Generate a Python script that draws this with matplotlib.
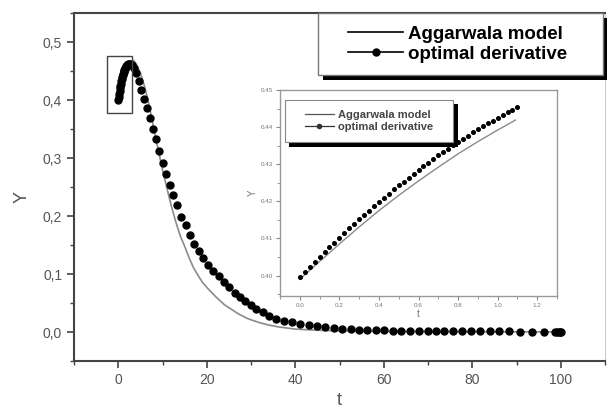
import matplotlib
matplotlib.use("Agg")
import matplotlib.pyplot as plt
from matplotlib.patches import Rectangle
from matplotlib.lines import Line2D
from matplotlib.ticker import MultipleLocator, FuncFormatter

plt.rcParams['font.family'] = ['Liberation Sans', 'DejaVu Sans']

# ---- main panel: optimal derivative (dots) ----
t_opt = [0.0, 0.1, 0.2, 0.3, 0.4, 0.5, 0.6, 0.7, 0.8, 0.9, 1.0, 1.1, 1.2, 1.3,
         1.4, 1.5, 1.6, 1.7, 1.8, 1.9, 2.0, 2.2, 2.4, 2.6, 2.8, 3.0, 3.5, 4.0,
         4.6, 5.2, 5.8, 6.5, 7.2, 7.9, 8.6, 9.3, 10.0, 10.8, 11.6, 12.4, 13.3,
         14.2, 15.2, 16.2, 17.2, 18.2, 19.2, 20.3, 21.5, 22.7, 23.9, 25.1, 26.3,
         27.5, 28.7, 29.9, 31.2, 32.6, 34.1, 35.7, 37.4, 39.2, 41.1, 43.0, 44.9,
         46.8, 48.7, 50.6, 52.5, 54.4, 56.3, 58.2, 60.1, 62.0, 63.9, 65.9, 67.9,
         69.9, 71.8, 73.7, 75.7, 77.7, 79.7, 81.8, 83.9, 86.1, 88.4, 90.8, 93.4,
         96.2, 98.8, 99.2, 99.5, 99.8, 100.0]
y_opt = [0.3995, 0.405, 0.410, 0.415, 0.420, 0.4243, 0.4284, 0.4324, 0.436,
         0.4394, 0.4425, 0.4454, 0.448, 0.4503, 0.4524, 0.4543, 0.456, 0.4574,
         0.4586, 0.4596, 0.4604, 0.4615, 0.462, 0.4618, 0.461, 0.4597, 0.4545,
         0.446, 0.432, 0.417, 0.401, 0.386, 0.369, 0.350, 0.333, 0.312, 0.292,
         0.273, 0.253, 0.236, 0.219, 0.199, 0.184, 0.168, 0.152, 0.139, 0.127,
         0.115, 0.105, 0.096, 0.087, 0.077, 0.068, 0.060, 0.053, 0.047, 0.040,
         0.034, 0.028, 0.023, 0.019, 0.0165, 0.014, 0.012, 0.0095, 0.008,
         0.0065, 0.0055, 0.0048, 0.004, 0.0035, 0.003, 0.0027, 0.0024, 0.0022,
         0.002, 0.0018, 0.0016, 0.0015, 0.0014, 0.0013, 0.0012, 0.0011, 0.001,
         0.001, 0.0009, 0.0009, 0.0008, 0.0008, 0.0007, 0.0007, 0.0007, 0.0007,
         0.0007, 0.0007]

# ---- main panel: Aggarwala model (line) ----
t_agg = [0.0, 0.5, 1.0, 1.5, 2.0, 2.5, 3.0, 3.5, 4.0, 5.0, 6.0, 7.0, 8.0, 9.0,
         10.0, 11.0, 12.0, 13.0, 14.0, 15.0, 16.0, 17.0, 18.0, 19.0, 20.0,
         21.0, 22.0, 23.0, 24.0, 25.0, 26.0, 27.0, 28.0, 29.0, 30.0, 32.0,
         34.0, 36.0, 38.0, 40.0, 45.0, 50.0, 60.0, 70.0, 80.0, 90.0, 100.0]
y_agg = [0.400, 0.415, 0.428, 0.440, 0.452, 0.462, 0.467, 0.468, 0.463, 0.447,
         0.422, 0.390, 0.352, 0.315, 0.280, 0.248, 0.217, 0.190, 0.166, 0.148,
         0.128, 0.111, 0.098, 0.086, 0.077, 0.069, 0.061, 0.054, 0.047, 0.042,
         0.037, 0.032, 0.028, 0.024, 0.021, 0.016, 0.012, 0.009, 0.007, 0.005,
         0.003, 0.002, 0.001, 0.0006, 0.0004, 0.0003, 0.0002]

# ---- inset: zoom on the start of the curves ----
t_ins_opt = [0.0, 0.025, 0.05, 0.075, 0.1, 0.125, 0.15, 0.175, 0.2, 0.225,
             0.25, 0.275, 0.3, 0.325, 0.35, 0.375, 0.4, 0.425, 0.45, 0.475,
             0.5, 0.525, 0.55, 0.575, 0.6, 0.625, 0.65, 0.675, 0.7, 0.725,
             0.75, 0.775, 0.8, 0.825, 0.85, 0.875, 0.9, 0.925, 0.95, 0.975,
             1.0, 1.025, 1.05, 1.075, 1.1]
y_ins_opt = [0.3995, 0.4009, 0.4023, 0.4036, 0.4050, 0.4063, 0.4076, 0.4089,
             0.4102, 0.4115, 0.4127, 0.4139, 0.4152, 0.4163, 0.4175, 0.4187,
             0.4198, 0.4210, 0.4221, 0.4232, 0.4243, 0.4253, 0.4264, 0.4274,
             0.4284, 0.4294, 0.4304, 0.4314, 0.4324, 0.4333, 0.4342, 0.4351,
             0.4360, 0.4369, 0.4377, 0.4386, 0.4394, 0.4402, 0.4410, 0.4417,
             0.4425, 0.4432, 0.4440, 0.4447, 0.4454]
t_ins_agg = [0.0, 0.1, 0.2, 0.3, 0.4, 0.5, 0.6, 0.7, 0.8, 0.9, 1.0, 1.09]
y_ins_agg = [0.3990, 0.4038, 0.4085, 0.4131, 0.4175, 0.4216, 0.4255, 0.4292,
             0.4328, 0.4361, 0.4392, 0.4419]

# zoom window marked on the main panel
box_t = (-2.5, 3.1)
box_y = (0.377, 0.476)

W, H = 607, 411
fig = plt.figure(figsize=(W / 100, H / 100), dpi=100)


def fx(px):
    return px / W


def fy(py):
    return 1 - py / H


tick_col = '#555555'
spine_col = '#444444'

# ---------------- main axes ----------------
ax = fig.add_axes([fx(74), fy(361), fx(605) - fx(74), fy(13) - fy(361)])
ax.plot(t_agg, y_agg, color='#8a8a8a', lw=1.2, zorder=2)
ax.plot(t_opt, y_opt, ls='none', marker='o', ms=5.0, color='black', zorder=3)
ax.add_patch(Rectangle((box_t[0], box_y[0]), box_t[1] - box_t[0],
                       box_y[1] - box_y[0], fill=False, ec='#444444', lw=1.0,
                       zorder=4))
ax.set_xlim(-10, 110)
ax.set_ylim(-0.05, 0.55)
ax.xaxis.set_major_locator(MultipleLocator(20))
ax.xaxis.set_minor_locator(MultipleLocator(10))
ax.yaxis.set_major_locator(MultipleLocator(0.1))
ax.yaxis.set_minor_locator(MultipleLocator(0.05))
ax.set_xticks([0, 20, 40, 60, 80, 100])
ax.yaxis.set_major_formatter(FuncFormatter(lambda v, p: f"{v:.1f}".replace('.', ',')))
ax.tick_params(axis='both', which='major', direction='out', length=5,
               width=1.2, color=spine_col, labelsize=10, labelcolor=tick_col)
ax.tick_params(axis='both', which='minor', direction='out', length=3,
               width=1.0, color=spine_col)
for side in ('left', 'bottom', 'top'):
    ax.spines[side].set_color(spine_col)
    ax.spines[side].set_linewidth(1.5)
ax.spines['right'].set_color('#cccccc')
ax.spines['right'].set_linewidth(0.8)
ax.set_xlabel('t', fontsize=13, color=tick_col, labelpad=4)
ax.set_ylabel('Y', fontsize=13, color=tick_col)
ax.yaxis.set_label_coords(-0.082, 0.47)

# main legend with solid shadow
fig.add_artist(Rectangle((fx(323), fy(80)), fx(608) - fx(323), fy(18) - fy(80),
                         transform=fig.transFigure, fc='black', ec='none',
                         zorder=5))
fig.add_artist(Rectangle((fx(318), fy(75)), fx(603) - fx(318), fy(13) - fy(75),
                         transform=fig.transFigure, fc='white', ec='#777777',
                         lw=1.0, zorder=6))
h_main = [Line2D([], [], color='black', lw=1.2),
          Line2D([], [], color='black', lw=1.2, marker='o', ms=5)]
leg = fig.legend(h_main, ['Aggarwala model', 'optimal derivative'],
                 loc='center', bbox_to_anchor=(fx(458), fy(44)),
                 frameon=False, prop={'weight': 'bold', 'size': 13.5},
                 handlelength=2.9, handletextpad=0.3, labelspacing=0.15)
leg.set_zorder(7)
for txt in leg.get_texts():
    txt.set_color('black')

# ---------------- inset axes ----------------
ins = fig.add_axes([fx(280), fy(296), fx(557) - fx(280), fy(90) - fy(296)],
                   zorder=8)
ins.plot(t_ins_agg, y_ins_agg, color='#8a8a8a', lw=1.0, zorder=2)
ins.plot(t_ins_opt, y_ins_opt, ls='none', marker='o', ms=2.6, color='black',
         zorder=3)
ins.set_xlim(-0.1, 1.3)
ins.set_ylim(0.3945, 0.45)
ins.xaxis.set_major_locator(MultipleLocator(0.2))
ins.xaxis.set_minor_locator(MultipleLocator(0.1))
ins.yaxis.set_major_locator(MultipleLocator(0.01))
ins.yaxis.set_minor_locator(MultipleLocator(0.005))
ins.xaxis.set_major_formatter(FuncFormatter(lambda v, p: f"{v:.1f}"))
ins.yaxis.set_major_formatter(FuncFormatter(lambda v, p: f"{v:.2f}"))
ins.tick_params(axis='both', which='major', direction='out', length=3,
                width=0.8, color='#888888', labelsize=4.5, labelcolor='#777777',
                pad=2)
ins.tick_params(axis='both', which='minor', direction='out', length=2,
                width=0.6, color='#888888')
for s in ins.spines.values():
    s.set_color('#999999')
    s.set_linewidth(1.0)
ins.set_xlabel('t', fontsize=7, color='#777777', labelpad=1)
ins.set_ylabel('Y', fontsize=7, color='#777777', labelpad=2)

# inset legend with solid shadow
fig.add_artist(Rectangle((fx(289), fy(147)), fx(458) - fx(289), fy(104) - fy(147),
                         transform=fig.transFigure, fc='black', ec='none',
                         zorder=9))
fig.add_artist(Rectangle((fx(285), fy(142)), fx(453) - fx(285), fy(100) - fy(142),
                         transform=fig.transFigure, fc='white', ec='#888888',
                         lw=0.8, zorder=10))
h_ins = [Line2D([], [], color='#555555', lw=0.9),
         Line2D([], [], color='#333333', lw=0.9, marker='o', ms=3)]
leg2 = fig.legend(h_ins, ['Aggarwala model', 'optimal derivative'],
                  loc='center', bbox_to_anchor=(fx(369), fy(121)),
                  frameon=False, prop={'weight': 'bold', 'size': 8},
                  handlelength=2.6, handletextpad=0.4, labelspacing=0.2)
leg2.set_zorder(11)
for txt in leg2.get_texts():
    txt.set_color('#444444')

fig.savefig('out.png', dpi=100)
